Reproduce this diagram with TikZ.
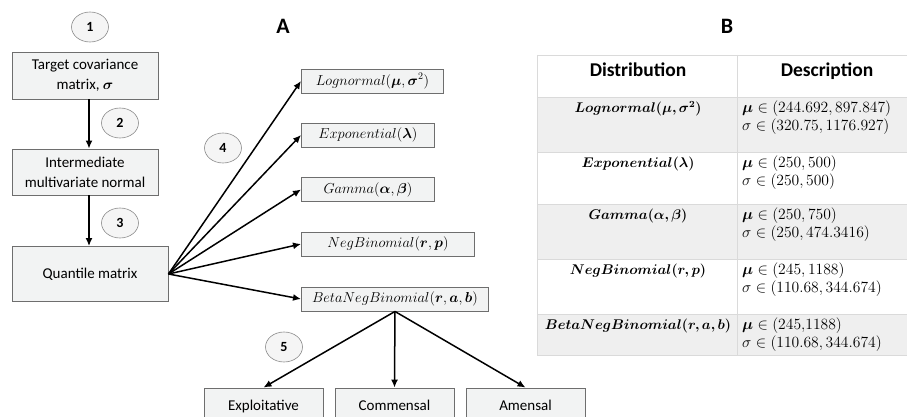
\documentclass[tikz,border=0pt]{standalone}
\usepackage{amsmath}
\usepackage{graphicx}
\usepackage{bm}
\usepackage[no-math]{fontspec}
\setmainfont{Carlito}
\usetikzlibrary{arrows.meta,shapes.geometric}
\definecolor{boxfill}{HTML}{F2F3F3}
\definecolor{boxline}{HTML}{6E6E6E}
\definecolor{numfill}{HTML}{F5F5F5}
\definecolor{numline}{HTML}{8A8A8A}
\definecolor{rowgrey}{HTML}{EFEFEF}
\definecolor{tabline}{HTML}{DADADA}
\newcommand{\distx}[1]{\scalebox{1.17}{$#1$}}
\newcommand{\descx}[1]{\scalebox{1.3}{$#1$}}
\begin{document}
\begin{tikzpicture}[x=1pt,y=-1pt,
  fbox/.style={draw=boxline, fill=boxfill, line width=0.9pt, inner sep=0pt, align=center, font=\fontsize{15}{20}\selectfont},
  dbox/.style={draw=boxline, fill=boxfill, line width=0.9pt, inner sep=0pt, anchor=west, minimum height=24pt, font=\fontsize{14.4}{16}\selectfont},
  bbox/.style={draw=boxline, fill=boxfill, line width=0.9pt, inner sep=0pt, minimum width=119pt, minimum height=38pt, text height=10.5pt, text depth=3pt, font=\fontsize{15}{18}\selectfont},
  num/.style={ellipse, draw=numline, fill=numfill, line width=0.6pt, minimum width=37pt, minimum height=30pt, inner sep=0pt, font=\bfseries\fontsize{14}{16}\selectfont},
  arr/.style={-{Latex[length=8pt,width=7pt]}, line width=1.5pt},
  lbl/.style={font=\bfseries\fontsize{22}{26}\selectfont},
  thead/.style={font=\bfseries\fontsize{19.5}{22}\selectfont, anchor=base},
  tdist/.style={font=\fontsize{12}{14}\selectfont},
  tdesc/.style={font=\fontsize{12}{14}\selectfont, anchor=west, inner sep=0pt}]
\useasboundingbox (0,0) rectangle (907,417);
\clip (0,0) rectangle (907,417);

% labels
\node[lbl] (labA) at (283,26) {A};
\node[lbl] (labB) at (727,26) {B};

% flowchart left column
\node[num] (n1) at (90,27) {1};
\node[fbox, minimum width=146pt, minimum height=47pt] (b1) at (85,75.5) {Target covariance\\matrix, $\bm{\sigma}$};
\node[fbox, minimum width=146pt, minimum height=46pt] (b2) at (85,172) {Intermediate\\multivariate normal};
\node[fbox, minimum width=156pt, minimum height=55pt] (b3) at (90,274) {Quantile matrix};
\node[num] (n2) at (120,123) {2};
\node[num] (n3) at (120,223) {3};
\node[num] (n4) at (223,148) {4};
\node[num] (n5) at (284,347) {5};

\draw[arr] ([xshift=4pt]b1.south) -- ([xshift=4pt]b2.north);
\draw[arr] ([xshift=4pt]b2.south) -- ([xshift=4pt]b2.south |- b3.north);

% distribution boxes
\node[dbox, minimum width=142pt] (d1) at (301,81) {$Lognormal(\bm{\mu},\bm{\sigma}^2)$};
\node[dbox, minimum width=133pt] (d2) at (301,135) {$Exponential(\bm{\lambda})$};
\node[dbox, minimum width=133pt] (d3) at (301,189.5) {$Gamma(\bm{\alpha},\bm{\beta})$};
\node[dbox, minimum width=173pt] (d4) at (301,244) {$NegBinomial(\bm{r},\bm{p})$};
\node[dbox, minimum width=187pt] (d5) at (301,299) {$BetaNegBinomial(\bm{r},\bm{a},\bm{b})$};

\foreach \d in {d1,d2,d3,d4,d5}{
  \draw[arr] (b3.east) -- (\d.west);
}

% interaction boxes
\node[bbox] (e1) at (263.5,407) {Exploitative};
\node[bbox] (e2) at (394.5,407) {Commensal};
\node[bbox] (e3) at (525.5,407) {Amensal};
\draw[arr] (d5.south) -- (e1.north);
\draw[arr] (d5.south) -- (e2.north);
\draw[arr] (d5.south) -- (e3.north);

% table B
\fill[rowgrey] (537,97) rectangle (920,152);
\fill[rowgrey] (537,204) rectangle (920,259);
\fill[rowgrey] (537,314) rectangle (920,355);
\draw[tabline, line width=0.8pt]
  (537,55) -- (920,55)
  (537,97) -- (920,97)
  (537,152) -- (920,152)
  (537,204) -- (920,204)
  (537,259) -- (920,259)
  (537,314) -- (920,314)
  (537,355) -- (920,355)
  (537,55) -- (537,355)
  (737,55) -- (737,355);

\node[thead] (h1) at (638,77) {Distribution};
\node[thead] (h2) at (827,77) {Description};

\node[tdist] (t1) at (638,109) {\distx{\bm{Lognormal(\mu,\sigma^2)}}};
\node[tdesc] (s1a) at (742,109) {\descx{\bm{\mu}\in(244.692, 897.847)}};
\node[tdesc] (s1b) at (742,127) {\descx{\sigma\in(320.75, 1176.927)}};

\node[tdist] (t2) at (638,164) {\distx{\bm{Exponential(\lambda)}}};
\node[tdesc] (s2a) at (742,164) {\descx{\bm{\mu}\in(250, 500)}};
\node[tdesc] (s2b) at (742,182) {\descx{\sigma\in(250, 500)}};

\node[tdist] (t3) at (638,216) {\distx{\bm{Gamma(\alpha,\beta)}}};
\node[tdesc] (s3a) at (742,216) {\descx{\bm{\mu}\in(250, 750)}};
\node[tdesc] (s3b) at (742,234) {\descx{\sigma\in(250, 474.3416)}};

\node[tdist] (t4) at (638,271) {\distx{\bm{NegBinomial(r,p)}}};
\node[tdesc] (s4a) at (742,271) {\descx{\bm{\mu}\in(245, 1188)}};
\node[tdesc] (s4b) at (742,289) {\descx{\sigma\in(110.68, 344.674)}};

\node[tdist] (t5) at (638,326) {\distx{\bm{BetaNegBinomial(r,a,b)}}};
\node[tdesc] (s5a) at (742,326) {\descx{\bm{\mu}\in(245{,}1188)}};
\node[tdesc] (s5b) at (742,344) {\descx{\sigma\in(110.68, 344.674)}};
\end{tikzpicture}
\end{document}
